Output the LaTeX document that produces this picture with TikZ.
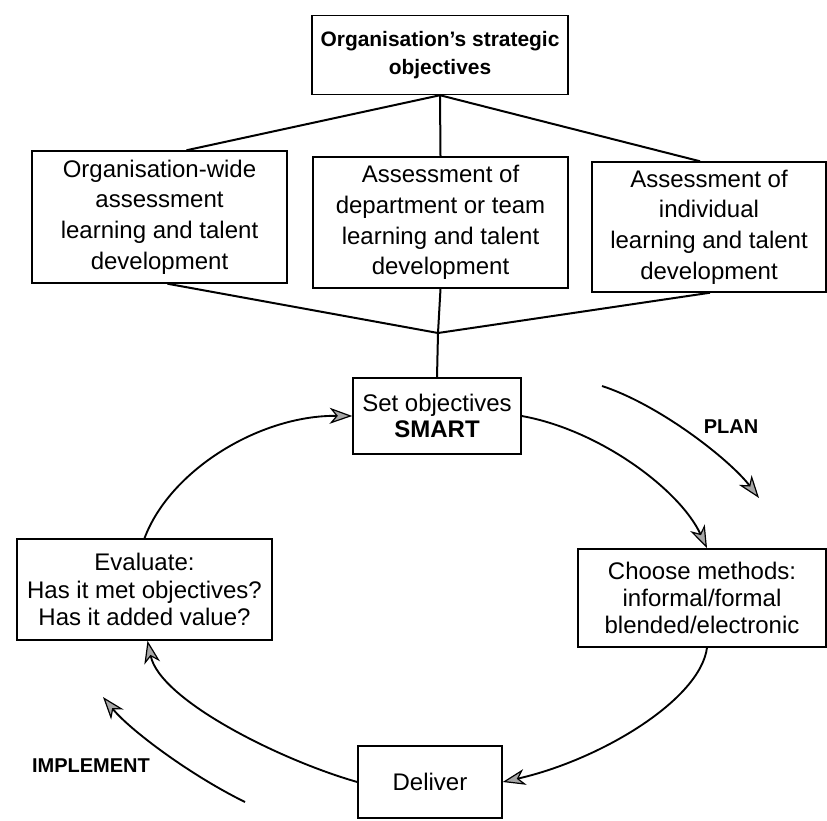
\documentclass[tikz,border=0pt]{standalone}
\usepackage{fontspec}
\setmainfont{Liberation Sans}
\usetikzlibrary{arrows.meta,calc}

% sizes below are given in pixels of a 827 x 820 canvas (1px = 0.75pt)
\newcommand{\pxl}[1]{#1*0.75pt}

\begin{document}
\begin{tikzpicture}[x=0.75pt,y=-0.75pt,
  box/.style={draw=black,line width=1.1pt,align=center,inner sep=0pt,
    font=\fontsize{18}{23}\selectfont},
  link/.style={draw=black,line width=1.5pt},
  flow/.style={draw=black,line width=1.4pt,
    -{Stealth[length=17pt,width=12pt,inset=5pt,line width=0.9pt,fill=gray!70]}},
  phase/.style={font=\fontsize{15}{18}\selectfont\bfseries}]

\useasboundingbox (0,0) rectangle (827,820);

% strategic objectives and the three assessments
\node[box,minimum width=\pxl{256},minimum height=\pxl{79},
  font=\fontsize{15.7}{21}\selectfont\bfseries] (top) at (440,55)
  {Organisation's strategic\\objectives};
\node[box,minimum width=\pxl{255},minimum height=\pxl{132}] (b1) at (159.5,217)
  {Organisation-wide\\assessment\\learning and talent\\development};
\node[box,minimum width=\pxl{255},minimum height=\pxl{131}] (b2) at (440.5,222.5)
  {Assessment of\\department or team\\learning and talent\\development};
\node[box,minimum width=\pxl{234},minimum height=\pxl{130}] (b3) at (709,227)
  {Assessment of\\individual\\learning and talent\\development};

% the cycle
\node[box,minimum width=\pxl{168},minimum height=\pxl{76},
  font=\fontsize{18}{20}\selectfont] (setobj) at (437,416)
  {Set objectives\\\textbf{SMART}};
\node[box,minimum width=\pxl{248},minimum height=\pxl{98},
  font=\fontsize{18}{20.5}\selectfont] (choose) at (702,598)
  {Choose methods:\\informal/formal\\blended/electronic};
\node[box,minimum width=\pxl{144},minimum height=\pxl{72}] (deliver) at (430,782) {Deliver};
\node[box,minimum width=\pxl{255},minimum height=\pxl{101},
  font=\fontsize{18}{20.5}\selectfont] (eval) at (144.5,589.5)
  {Evaluate:\\Has it met objectives?\\Has it added value?};

% fan-out and fan-in
\coordinate (fanin) at (438,333);
\draw[link] ([xshift=\pxl{27}]b1.north) -- (top.south) -- (b2.north);
\draw[link] (top.south) -- ([xshift=-\pxl{9}]b3.north);
\draw[link] ([xshift=\pxl{8}]b1.south) -- (fanin) -- ([xshift=\pxl{1}]b3.south);
\draw[link] (b2.south) -- (fanin) -- (setobj.north);

% cycle arrows
\draw[flow] (setobj.east) .. controls (600,430) and (680,490) .. ([xshift=\pxl{5}]choose.north);
\draw[flow] ([xshift=\pxl{5}]choose.south) .. controls (700,700) and (600,760) .. (deliver.east);
\draw[flow] (deliver.west) .. controls (280,760) and (160,700) .. ([xshift=\pxl{3}]eval.south);
\draw[flow] (eval.north) .. controls (170,470) and (260,415) .. (setobj.west);

% phase labels
\coordinate (planA) at (602,386);
\coordinate (planB) at (759,498);
\draw[flow] (planA) .. controls (660,405) and (730,460) .. (planB);
\node[phase] (plan) at (731,427) {PLAN};

\coordinate (implA) at (245,802);
\coordinate (implB) at (103,697);
\draw[flow] (implA) .. controls (190,775) and (130,730) .. (implB);
\node[phase] (impl) at (91,766) {IMPLEMENT};
\end{tikzpicture}
\end{document}
